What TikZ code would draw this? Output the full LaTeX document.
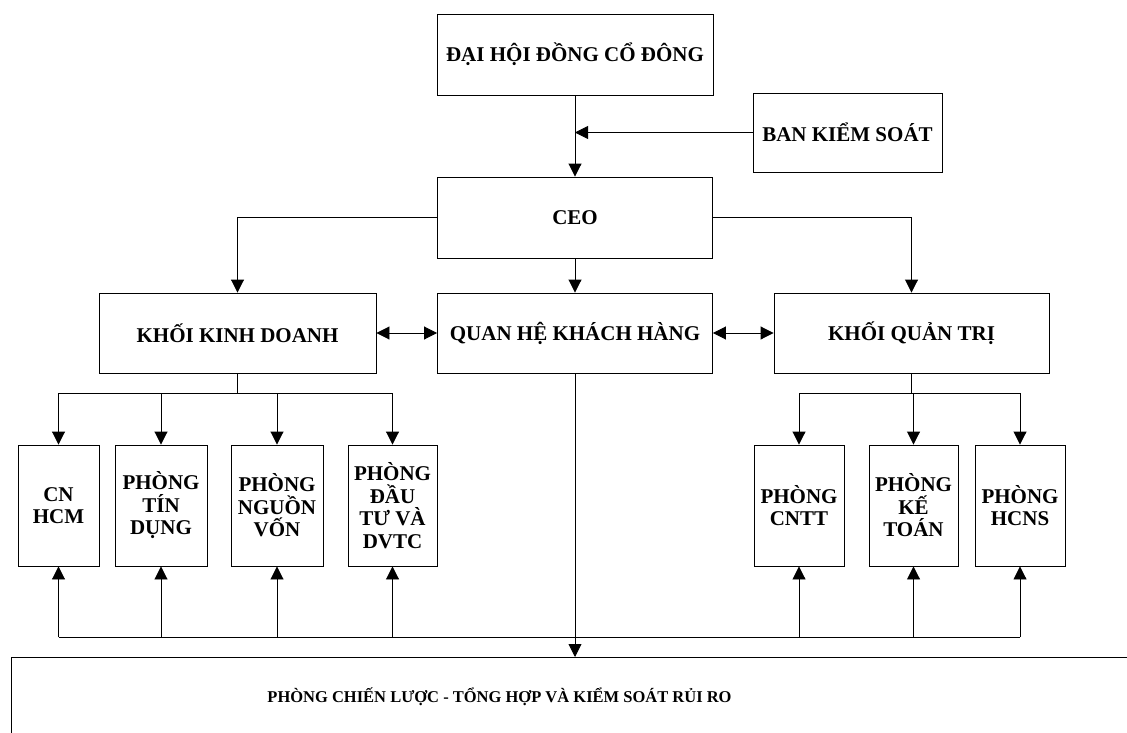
\documentclass[tikz,border=0pt]{standalone}
\usepackage{fontspec}
\setmainfont{Liberation Serif}
\usetikzlibrary{arrows.meta}
\begin{document}
\begin{tikzpicture}[x=1pt,y=-1pt,
  box/.style={draw, line width=0.9pt, inner sep=0pt, align=center,
    font=\bfseries\fontsize{21}{22.5}\selectfont},
  tip/.style={Triangle[length=13pt,width=13pt]},
  arr/.style={line width=0.9pt, -{Triangle[length=13pt,width=13pt]}},
  darr/.style={line width=0.9pt, {Triangle[length=13pt,width=13pt]}-{Triangle[length=13pt,width=13pt]}},
  ln/.style={line width=0.9pt}]
\useasboundingbox (0,0) rectangle (1127,733);
\clip (0,0) rectangle (1127,733);
% top level
\node[box, minimum width=276pt, minimum height=81pt] (dh) at (575,54.5) {ĐẠI HỘI ĐỒNG CỔ ĐÔNG};
\node[box, minimum width=189pt, minimum height=79pt] (bks) at (847.5,132.5) {BAN KIỂM SOÁT};
\node[box, minimum width=275pt, minimum height=81pt] (ceo) at (575,217.5) {CEO};
% second level
\node[box, minimum width=277pt, minimum height=80pt] (kkd) at (237.5,333) {KHỐI KINH DOANH};
\node[box, minimum width=275pt, minimum height=80pt] (qh) at (575,333) {QUAN HỆ KHÁCH HÀNG};
\node[box, minimum width=275pt, minimum height=80pt] (kqt) at (911.5,333) {KHỐI QUẢN TRỊ};
% departments
\node[box, minimum width=81pt, minimum height=121pt] (cn) at (58.5,505.5) {CN\\HCM};
\node[box, minimum width=92pt, minimum height=121pt] (td) at (161,505.5) {PHÒNG\\TÍN\\DỤNG};
\node[box, minimum width=92pt, minimum height=121pt] (nv) at (277,505.5) {PHÒNG\\NGUỒN\\VỐN};
\node[box, minimum width=89pt, minimum height=121pt] (dt) at (392.5,505.5) {PHÒNG\\ĐẦU\\TƯ VÀ\\DVTC};
\node[box, minimum width=90pt, minimum height=121pt] (cntt) at (799,505.5) {PHÒNG\\CNTT};
\node[box, minimum width=89pt, minimum height=121pt] (kt) at (913.5,505.5) {PHÒNG\\KẾ\\TOÁN};
\node[box, minimum width=90pt, minimum height=121pt] (hcns) at (1020,505.5) {PHÒNG\\HCNS};
% bottom box (runs past the right and bottom edges)
\node[draw, line width=0.9pt, inner sep=0pt, minimum width=1150pt, minimum height=110pt, anchor=north west] (bot) at (11,657) {};
\node[inner sep=0pt, font=\bfseries\fontsize{16.5}{18}\selectfont] (botlabel) at (499.5,697) {PHÒNG CHIẾN LƯỢC - TỔNG HỢP VÀ KIỂM SOÁT RỦI RO};
% connectors top
\draw[arr] (dh.south) -- (ceo.north);
\draw[arr] (bks.west) -- (bks.west -| dh.south);
\draw[arr] (ceo.west) -| (kkd.north);
\draw[arr] (ceo.east) -| (kqt.north);
\draw[arr] (ceo.south) -- (qh.north);
\draw[darr] (kkd.east) -- (qh.west);
\draw[darr] (qh.east) -- (kqt.west);
% business block
\coordinate (kb) at (237.5,393);
\draw[ln] (kkd.south) -- (kb);
\draw[ln] (kb -| cn.north) -- (kb -| dt.north);
\foreach \n in {cn,td,nv,dt} \draw[arr] (kb -| \n.north) -- (\n.north);
% admin block
\coordinate (qb) at (911.5,393);
\draw[ln] (kqt.south) -- (qb);
\draw[ln] (qb -| cntt.north) -- (qb -| hcns.north);
\foreach \n in {cntt,kt,hcns} \draw[arr] (qb -| \n.north) -- (\n.north);
% bus to bottom
\coordinate (bus) at (575,637);
\draw[ln] (bus -| cn.south) -- (bus -| hcns.south);
\foreach \n in {cn,td,nv,dt,cntt,kt,hcns} \draw[arr] (bus -| \n.south) -- (\n.south);
\draw[arr] (qh.south) -- (qh.south |- bot.north);
\end{tikzpicture}
\end{document}
